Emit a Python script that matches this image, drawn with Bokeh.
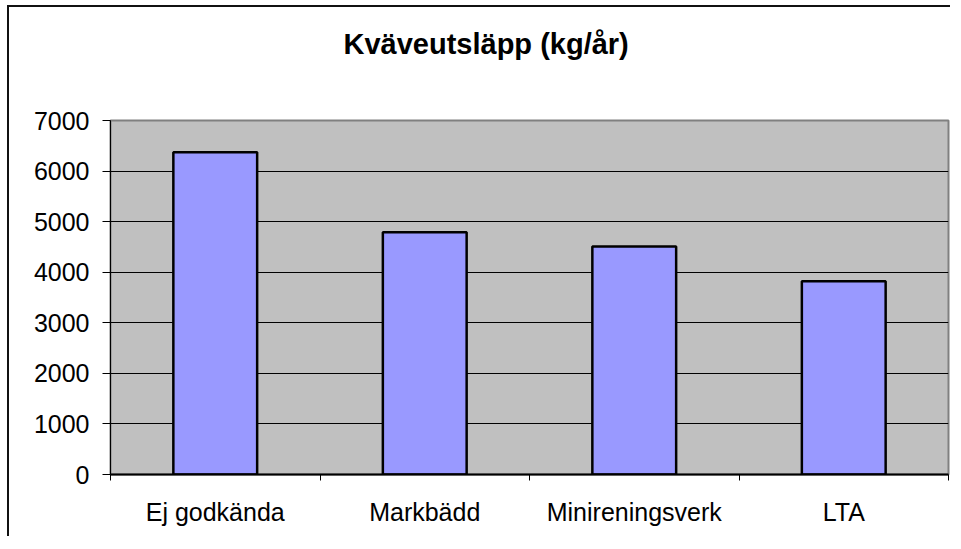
from bokeh.plotting import figure
from bokeh.models import ColumnDataSource, FixedTicker, Range1d, Title
from bokeh.embed import file_html
from bokeh.resources import INLINE

# --- data ---
categories = ["Ej godkända", "Markbädd", "Minireningsverk", "LTA"]
values = [6370, 4790, 4510, 3820]
y_ticks = [0, 1000, 2000, 3000, 4000, 5000, 6000, 7000]
title_text = "Kväveutsläpp (kg/år)"

positions = [i + 0.5 for i in range(len(categories))]
boundaries = list(range(len(categories) + 1))

src = ColumnDataSource(dict(x=positions, top=values, cat=categories))

p = figure(width=943, height=531, output_backend="svg", toolbar_location=None,
           x_range=Range1d(0, len(categories)), y_range=Range1d(0, 7000),
           min_border_left=101, min_border_right=4, min_border_top=113,
           min_border_bottom=64,
           background_fill_color="#C0C0C0", border_fill_color="white",
           styles={"border-left": "2px solid #111111", "border-top": "2px solid #111111",
                   "margin-left": "7px", "margin-top": "5px"})

p.title.visible = False
spacer = Title(text=" ", standoff=38, text_font_size="1px", text_color="white")
p.add_layout(spacer, "above")
t = Title(text=title_text, align="left", offset=233, standoff=36, vertical_align="top",
          text_font="Liberation Sans", text_font_size="29px",
          text_font_style="bold", text_color="black")
p.add_layout(t, "above")

p.outline_line_color = "#808080"
p.outline_line_width = 2

p.vbar(x="x", top="top", width=0.4, bottom=0, source=src,
       fill_color="#9999FF", line_color="black", line_width=2.5)

# Y axis
p.yaxis.ticker = FixedTicker(ticks=y_ticks)
p.yaxis.axis_line_color = "black"
p.yaxis.major_tick_out = 8
p.yaxis.major_tick_in = 0
p.yaxis.minor_tick_line_color = None
p.yaxis.major_label_standoff = 13
p.yaxis.major_label_text_font = "Liberation Sans"
p.yaxis.major_label_text_font_size = "25px"
p.yaxis.major_label_text_color = "black"

# X axis: labels at centers, ticks at boundaries
p.xaxis.ticker = FixedTicker(ticks=positions, minor_ticks=boundaries)
p.xaxis.major_label_overrides = {pos: c for pos, c in zip(positions, categories)}
p.xaxis.major_tick_line_color = None
p.xaxis.major_tick_out = 0
p.xaxis.major_tick_in = 0
p.xaxis.minor_tick_line_color = "black"
p.xaxis.minor_tick_out = 6
p.xaxis.minor_tick_in = 0
p.xaxis.axis_line_color = "black"
p.xaxis.axis_line_width = 2
p.xaxis.major_label_standoff = 17
p.xaxis.major_label_text_font = "Liberation Sans"
p.xaxis.major_label_text_font_size = "25px"
p.xaxis.major_label_text_color = "black"

p.xgrid.grid_line_color = None
p.ygrid.ticker = FixedTicker(ticks=y_ticks)
p.ygrid.grid_line_color = "black"
p.ygrid.grid_line_width = 1

open("out.html", "w").write(file_html(p, INLINE))
